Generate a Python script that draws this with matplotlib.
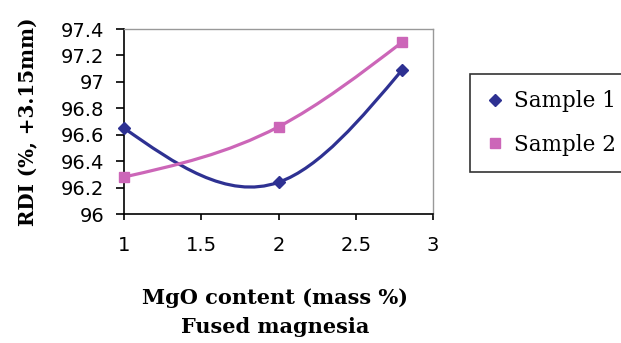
import numpy as np
import matplotlib
matplotlib.use("Agg")
import matplotlib.pyplot as plt
from matplotlib.path import Path
from matplotlib.patches import PathPatch
from matplotlib.lines import Line2D

mgo = [1.0, 2.0, 2.8]
sample1 = [96.65, 96.24, 97.09]
sample2 = [96.28, 96.66, 97.30]
series_names = ["Sample 1", "Sample 2"]
xticks = [1, 1.5, 2, 2.5, 3]
yticks = [96, 96.2, 96.4, 96.6, 96.8, 97, 97.2, 97.4]

c1 = "#2E3192"
c2 = "#CC66B8"

def smooth_path(x, y):
    x = np.asarray(x, float); y = np.asarray(y, float)
    n = len(x)
    h = np.diff(x)
    A = np.zeros((n, n)); b = np.zeros(n)
    A[0, 0] = 1; A[-1, -1] = 1
    for i in range(1, n - 1):
        A[i, i - 1] = h[i - 1]; A[i, i] = 2 * (h[i - 1] + h[i]); A[i, i + 1] = h[i]
        b[i] = 6 * ((y[i + 1] - y[i]) / h[i] - (y[i] - y[i - 1]) / h[i - 1])
    M = np.linalg.solve(A, b)
    verts = [(x[0], y[0])]; codes = [Path.MOVETO]
    for i in range(n - 1):
        s = (y[i + 1] - y[i]) / h[i]
        m0 = s - h[i] * (2 * M[i] + M[i + 1]) / 6
        m1 = s + h[i] * (M[i] + 2 * M[i + 1]) / 6
        verts += [(x[i] + h[i] / 3, y[i] + m0 * h[i] / 3),
                  (x[i + 1] - h[i] / 3, y[i + 1] - m1 * h[i] / 3),
                  (x[i + 1], y[i + 1])]
        codes += [Path.CURVE4] * 3
    return Path(verts, codes)

fig = plt.figure(figsize=(6.21, 3.43), dpi=100)
ax = fig.add_axes([124 / 621, 1 - 214 / 343, (433 - 124) / 621, (214 - 29) / 343])

for ys, col, mk, ms in [(sample1, c1, "D", 6), (sample2, c2, "s", 7)]:
    ax.add_patch(PathPatch(smooth_path(mgo, ys), facecolor="none", edgecolor=col, lw=2.3,
                           capstyle="round", joinstyle="round"))
    ax.plot(mgo, ys, linestyle="none", marker=mk, color=col, markersize=ms, zorder=3,
            clip_on=False)

ax.set_xlim(1, 3)
ax.set_ylim(96, 97.4)
ax.set_xticks(xticks)
ax.set_xticklabels([f"{t:g}" for t in xticks])
ax.set_yticks(yticks)
ax.set_yticklabels([f"{t:g}" for t in yticks])
for s in ["top", "right"]:
    ax.spines[s].set_color("#999999")
    ax.spines[s].set_linewidth(1.0)
for s in ["left", "bottom"]:
    ax.spines[s].set_color("black")
    ax.spines[s].set_linewidth(1.2)
ax.tick_params(direction="out", width=1.2, labelsize=14)
ax.tick_params(axis="y", length=5.5, pad=8.5)
ax.tick_params(axis="x", length=4.5, pad=11.5)
for lab in ax.get_xticklabels() + ax.get_yticklabels():
    lab.set_fontfamily("DejaVu Sans")

ax.set_ylabel("RDI (%, +3.15mm)", fontsize=14.3, fontweight="bold",
              fontfamily="DejaVu Serif", va="center")
ax.yaxis.set_label_coords((28 - 124) / 309, 0.5)
ax.set_xlabel("MgO content (mass %)\nFused magnesia", fontsize=15, fontweight="bold",
              fontfamily="DejaVu Serif", linespacing=1.55, va="top")
ax.xaxis.set_label_coords(0.49, -(288 - 214) / 185)

handles = [Line2D([], [], linestyle="none", marker="D", color=c1, markersize=6),
           Line2D([], [], linestyle="none", marker="s", color=c2, markersize=7)]
leg = fig.legend(handles, series_names, loc="upper left",
                 bbox_to_anchor=(470 / 621, 1 - 74 / 343), frameon=True, fancybox=False,
                 prop={"family": "DejaVu Serif", "size": 15.5}, handlelength=0.8,
                 handletextpad=0.5, borderpad=0.75, labelspacing=1.0, borderaxespad=0)
leg.get_frame().set_edgecolor("black")
leg.get_frame().set_linewidth(1.2)

fig.savefig("out.png", dpi=100)
